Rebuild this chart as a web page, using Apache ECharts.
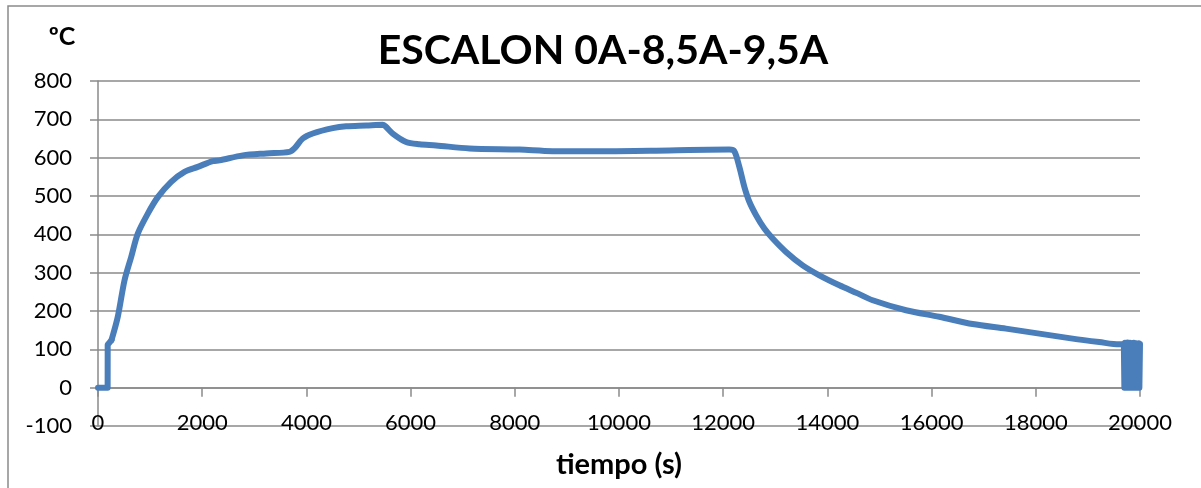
<!DOCTYPE html>
<html>
<head>
<meta charset="utf-8">
<script src="https://cdn.jsdelivr.net/npm/echarts@6/dist/echarts.min.js"></script>
<style>html,body{margin:0;padding:0;background:#fff;}#c{width:1201px;height:488px;}</style>
</head>
<body>
<div id="c"></div>
<script>
const titleText = 'ESCALON 0A-8,5A-9,5A';
const yAxisName = 'ºC';
const xAxisName = 'tiempo (s)';

// start of record: zero readings, then jump
const startTimeSec = [0, 185, 186, 259];
const startTempC = [0, 0, 112, 124];
// main record
const timeSec = [259, 380, 509, 637, 764, 956, 1148, 1405, 1660, 1915, 2203, 2332, 2779, 3228, 3675, 3770, 3930, 4122, 4506, 4763, 5147, 5465, 5517, 5657, 5914, 6170, 6490, 7129, 8089, 8728, 9687, 10966, 12118, 12214, 12310, 12406, 12502, 12631, 12790, 12950, 13206, 13525, 13846, 14230, 14581, 14869, 15509, 16148, 16787, 17428, 18067, 18706, 19218, 19602, 19690];
const tempC = [124, 185, 280, 341, 402, 454, 497, 537, 563, 576, 591, 593, 606, 611, 615, 624, 650, 663, 677, 682, 684, 686, 682, 663, 641, 635, 632, 624, 621, 617, 617, 619, 621, 617, 576, 524, 485, 450, 415, 389, 354, 319, 293, 267, 246, 228, 202, 185, 166, 154, 141, 128, 119, 113, 113];
// oscillating readings at the end of the record
const endTimeSec = [19690, 19700, 19712, 19724, 19736, 19748, 19760, 19772, 19784, 19796, 19808, 19820, 19832, 19844, 19856, 19868, 19880, 19892, 19904, 19916, 19928, 19940, 19952, 19964, 19976, 19988, 20000];
const endTempC = [113, 0, 117, 0, 116, 0, 118, 0, 115, 0, 117, 0, 116, 0, 115, 0, 117, 0, 114, 0, 116, 0, 115, 0, 116, 0, 114];

const xTicks = { min: 0, max: 20000, interval: 2000 };
const yTicks = { min: -100, max: 800, interval: 100 };

const pairs = (xs, ys) => xs.map((t, i) => [t, ys[i]]);

const gray = '#8a8a8a';
const blue = '#4A7EBB';
const font = 'Lato, "Open Sans", sans-serif';
const lineStyle = { color: blue, width: 6, join: 'round', cap: 'round' };
const chart = echarts.init(document.getElementById('c'), null, { renderer: 'canvas' });
chart.setOption({
  animation: false,
  backgroundColor: '#fff',
  grid: { left: 98, right: 61, top: 81, bottom: 62, containLabel: false },
  xAxis: [
    {
      type: 'value', min: xTicks.min, max: xTicks.max, interval: xTicks.interval,
      axisLine: { show: true, onZero: true, lineStyle: { color: gray, width: 1.5 } },
      axisTick: { show: true, inside: false, length: 9, lineStyle: { color: gray, width: 1.5 } },
      axisLabel: { show: false },
      splitLine: { show: false }
    },
    {
      type: 'value', min: xTicks.min, max: xTicks.max, interval: xTicks.interval, position: 'bottom',
      axisLine: { show: false, onZero: false },
      axisTick: { show: false },
      axisLabel: { show: true, showMinLabel: true, showMaxLabel: true, fontFamily: font, fontSize: 22, color: '#000', verticalAlign: 'middle', margin: -3, formatter: v => String(v) },
      splitLine: { show: false },
      name: xAxisName, nameLocation: 'middle', nameGap: 39,
      nameTextStyle: { fontFamily: font, fontSize: 29, fontWeight: 'bold', color: '#000', verticalAlign: 'middle' }
    }
  ],
  yAxis: {
    type: 'value', min: yTicks.min, max: yTicks.max, interval: yTicks.interval,
    axisLine: { show: true, onZero: false, lineStyle: { color: gray, width: 1.5 } },
    axisTick: { show: true, inside: false, length: 8, lineStyle: { color: gray, width: 1.5 } },
    axisLabel: { fontFamily: font, fontSize: 22, color: '#000', margin: 26, formatter: v => String(v) },
    splitLine: { show: true, lineStyle: { color: gray, width: 1.5 } }
  },
  series: [
    { type: 'line', xAxisIndex: 0, data: pairs(startTimeSec, startTempC), showSymbol: false, symbol: 'none', lineStyle: lineStyle, z: 5 },
    { type: 'line', xAxisIndex: 0, data: pairs(timeSec, tempC), showSymbol: false, symbol: 'none', smooth: 0.3, lineStyle: lineStyle, z: 5 },
    { type: 'line', xAxisIndex: 0, data: pairs(endTimeSec, endTempC), showSymbol: false, symbol: 'none', lineStyle: lineStyle, z: 5 }
  ],
  graphic: [
    { type: 'rect', shape: { x: 8, y: 6, width: 1400, height: 700 }, style: { fill: 'none', stroke: gray, lineWidth: 1.5 }, silent: true, z: -1 },
    { type: 'text', x: 603, y: 51, style: { text: titleText, font: 'bold 41px ' + font, fill: '#000', textAlign: 'center', textVerticalAlign: 'middle' } },
    { type: 'text', x: 62, y: 37, style: { text: yAxisName, font: 'bold 25px ' + font, fill: '#000', textAlign: 'center', textVerticalAlign: 'middle' } }
  ]
});
</script>
</body>
</html>
